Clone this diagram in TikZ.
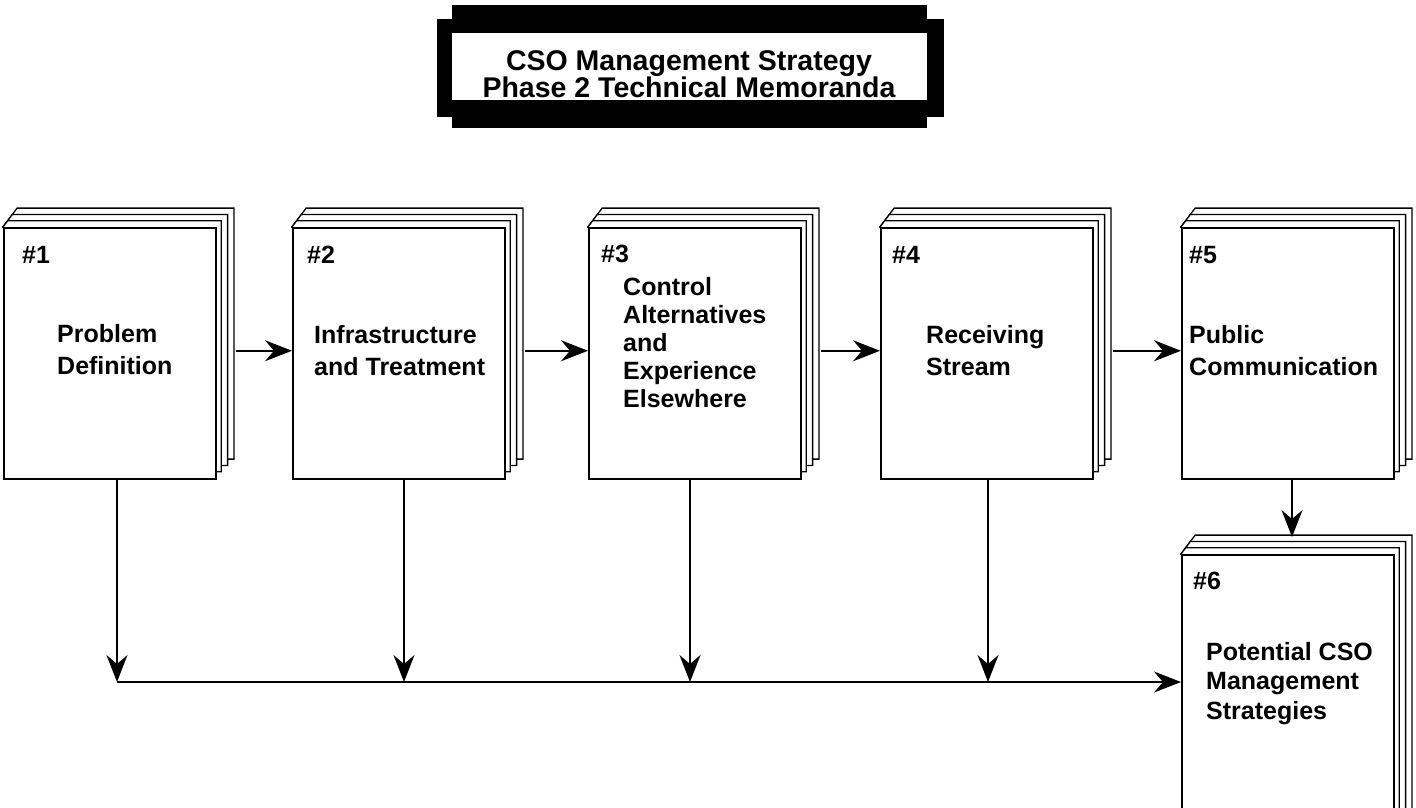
\documentclass[tikz,border=0pt]{standalone}
\usepackage{fontspec}
\setmainfont{Liberation Sans}
\usetikzlibrary{arrows.meta}
\tikzset{
  front/.style={draw, fill=white, line width=1.5pt, inner sep=0pt, anchor=north west, minimum width=212pt, minimum height=251pt},
  backpage/.style={draw, fill=white, line width=1.3pt, line join=miter},
  lbl/.style={inner sep=0pt, anchor=base west, align=left, font=\bfseries\fontsize{25}{32}\selectfont},
  num/.style={inner sep=0pt, anchor=base west, font=\bfseries\fontsize{25}{30}\selectfont},
  ttl/.style={inner sep=0pt, anchor=base, font=\bfseries\fontsize{28.5}{28}\selectfont},
  arr/.style={line width=1.7pt, -{Stealth[length=27pt,width=21pt,inset=9pt]}},
}
\newcommand\pagestack[4]{%
  \foreach \i in {3,2,1}{
    \draw[backpage] (#1,#2) -- ({#1+4.7*\i},{#2-6.3*\i}) -- ({#3+6.3*\i},{#2-6.3*\i})
      -- ({#3+6.3*\i},{#4-6.3*\i}) -- (#3,{#4-6.3*\i}) -- cycle;
  }%
}
\begin{document}
\begin{tikzpicture}[x=1pt,y=-1pt]
\useasboundingbox (0,0) rectangle (1416,807);
\clip (0,0) rectangle (1416,807);
\fill[white] (0,0) rectangle (1416,807);

% title frame
\fill[black] (437,19) rectangle (944,117);
\fill[black] (452,5) rectangle (927,128);
\fill[white] (452,33) rectangle (927,100);
\node[ttl] (title1) at (689,70) {CSO Management Strategy};
\node[ttl] (title2) at (689,97) {Phase 2 Technical Memoranda};

% document stacks
\pagestack{3}{227}{215}{478}
\node[front] (b1) at (3,227) {};
\pagestack{292}{227}{504}{478}
\node[front] (b2) at (292,227) {};
\pagestack{588}{227}{800}{478}
\node[front] (b3) at (588,227) {};
\pagestack{880}{227}{1092}{478}
\node[front] (b4) at (880,227) {};
\pagestack{1181}{227}{1393}{478}
\node[front] (b5) at (1181,227) {};
\pagestack{1181}{554}{1393}{850}
\node[front, minimum height=296pt] (b6) at (1181,554) {};

% texts (anchor = baseline of the last line)
\node[num] (n1) at (22,263) {\#1};
\node[lbl] (t1) at (57,374) {Problem\\Definition};
\node[num] (n2) at (307,263) {\#2};
\node[lbl] (t2) at (314,375) {Infrastructure\\and Treatment};
\node[num] (n3) at (601,262) {\#3};
\node[lbl, font=\bfseries\fontsize{25}{28}\selectfont] (t3) at (623,407) {Control\\Alternatives\\and\\Experience\\Elsewhere};
\node[num] (n4) at (892,263) {\#4};
\node[lbl] (t4) at (926,375) {Receiving\\Stream};
\node[num] (n5) at (1189,263) {\#5};
\node[lbl] (t5) at (1189,375) {Public\\Communication};
\node[num] (n6) at (1193,589) {\#6};
\node[lbl, font=\bfseries\fontsize{25}{29.5}\selectfont] (t6) at (1206,719) {Potential CSO\\Management\\Strategies};

% connectors
\draw[arr] ([xshift=19pt,yshift=2.5pt]b1.east) -- ([yshift=2.5pt]b2.west);
\draw[arr] ([xshift=19pt,yshift=2.5pt]b2.east) -- ([yshift=2.5pt]b3.west);
\draw[arr] ([xshift=19pt,yshift=2.5pt]b3.east) -- ([yshift=2.5pt]b4.west);
\draw[arr] ([xshift=19pt,yshift=2.5pt]b4.east) -- ([yshift=2.5pt]b5.west);

\coordinate (j1) at (117,682);
\coordinate (j2) at (404,682);
\coordinate (j3) at (690,682);
\coordinate (j4) at (988,682);
\coordinate (t6top) at (1292,537);
\draw[arr] (j1 |- b1.south) -- (j1);
\draw[arr] (j2 |- b2.south) -- (j2);
\draw[arr] (j3 |- b3.south) -- (j3);
\draw[arr] (j4 |- b4.south) -- (j4);
\draw[arr] (j1) -- (b6.west |- j1);
\draw[arr] (t6top |- b5.south) -- (t6top);
\end{tikzpicture}
\end{document}
